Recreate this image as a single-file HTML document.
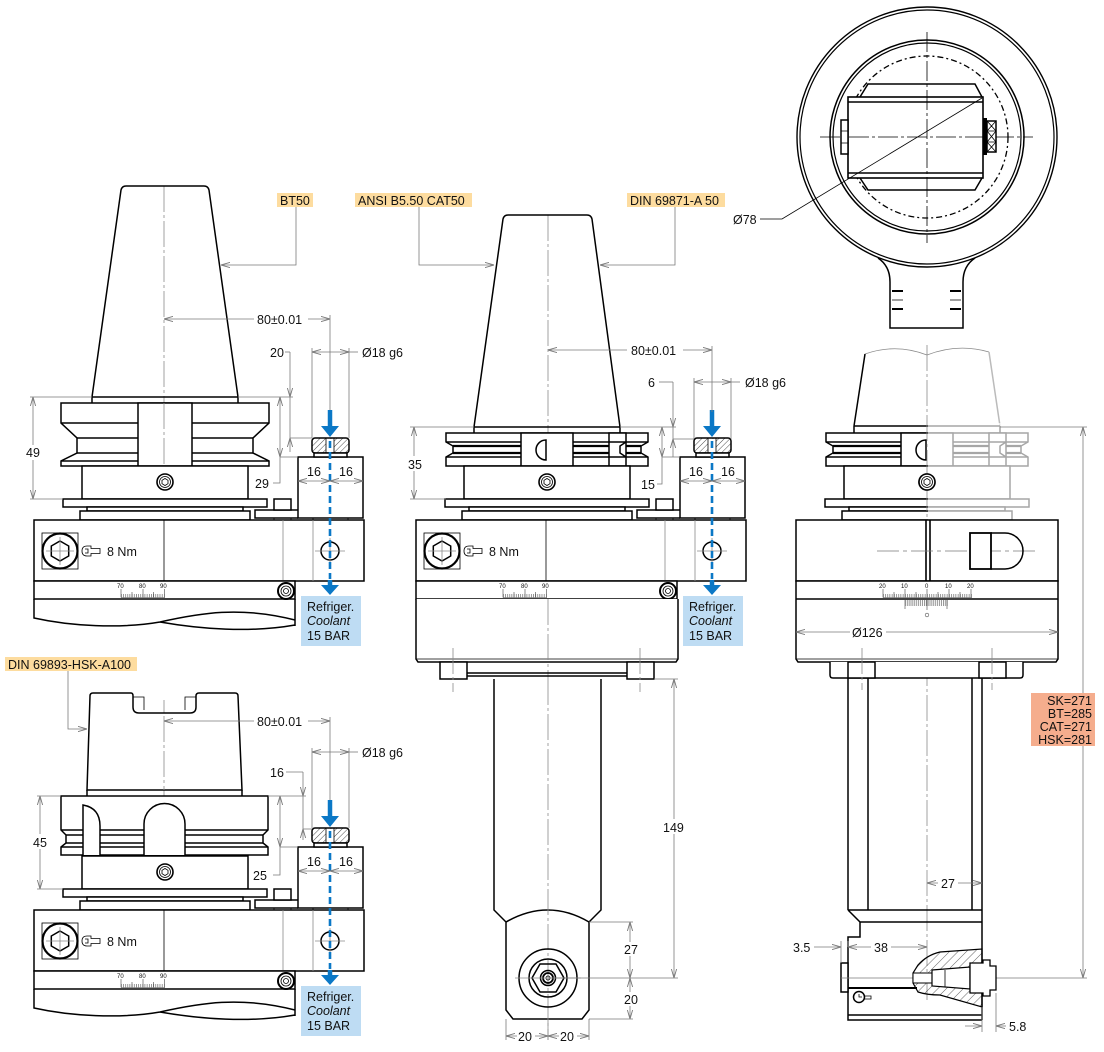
<!DOCTYPE html>
<html><head><meta charset="utf-8">
<style>
html,body{margin:0;padding:0;background:#fff;}
svg{display:block;}
text{font-family:"Liberation Sans",sans-serif;fill:#111;font-size:12.5px;}
.o{fill:none;stroke:#000;stroke-width:1.5}
.ow{fill:#fff;stroke:#000;stroke-width:1.5}
.t{fill:none;stroke:#000;stroke-width:0.8}
.g{fill:none;stroke:#8a8a8a;stroke-width:0.8}
.d{fill:none;stroke:#7a7a7a;stroke-width:0.8}
.cl{fill:none;stroke:#8a8a8a;stroke-width:0.8;stroke-dasharray:26,3,3,3}
.a2{marker-start:url(#ar);marker-end:url(#ar)}
.ae{marker-end:url(#ar)}
.sm{font-size:6px}
</style></head><body>
<svg width="1104" height="1052" viewBox="0 0 1104 1052" xmlns="http://www.w3.org/2000/svg">
<defs>
<marker id="ar" viewBox="0 0 9 6" refX="9" refY="3" markerWidth="9" markerHeight="6" markerUnits="userSpaceOnUse" orient="auto-start-reverse"><path d="M0,0.4 L9,3 L0,5.6" fill="none" stroke="#777" stroke-width="0.9"/></marker>
<pattern id="hat" width="4" height="4" patternUnits="userSpaceOnUse" patternTransform="rotate(45)"><line x1="0" y1="0" x2="0" y2="4" stroke="#000" stroke-width="0.7"/></pattern>
<pattern id="hat2" width="6" height="6" patternUnits="userSpaceOnUse" patternTransform="rotate(45)"><line x1="0" y1="0" x2="0" y2="6" stroke="#000" stroke-width="0.6"/></pattern>
<pattern id="tk" x="121" y="0" width="2.15" height="10" patternUnits="userSpaceOnUse"><rect x="0" y="0" width="0.6" height="10" fill="#555"/></pattern>
<pattern id="tk2" x="883" y="0" width="2.2" height="10" patternUnits="userSpaceOnUse"><rect x="0" y="0" width="0.6" height="10" fill="#555"/></pattern>
<pattern id="tk3" x="905" y="0" width="1.9" height="10" patternUnits="userSpaceOnUse"><rect x="0" y="0" width="0.6" height="10" fill="#555"/></pattern>

<!-- body/plate/steps, local x centered at 0 -->
<g id="bodyA">
 <rect x="-83" y="466" width="166" height="33" class="ow"/>
 <rect x="-102" y="499" width="204" height="8" class="ow"/>
 <rect x="-78" y="507" width="156" height="4" class="ow"/>
 <rect x="-85" y="511" width="170" height="9" class="ow"/>
 <circle cx="0" cy="482" r="8" fill="#fff" stroke="#000" stroke-width="1.6"/>
 <circle cx="0" cy="482" r="5.5" class="t"/>
 <polygon points="0,478.5 3,480.3 3,483.7 0,485.5 -3,483.7 -3,480.3" class="t"/>
</g>

<!-- CAT flange local centered at 0 -->
<g id="catfl">
 <path d="M-101,433 H101 V442 L94,446 V453 L101,457 V466 H-101 V457 L-94,453 V446 L-101,442 Z" class="ow"/>
 <path d="M-101,442 H101 M-101,457 H101" class="o"/>
 <path d="M-94,446 H94 M-94,453 H94" fill="none" stroke="#000" stroke-width="2.2"/>
 <rect x="-26" y="433" width="52" height="33" class="ow"/>
 <path d="M-1,440 A10,10 0 0 0 -1,460 Z" class="o"/>
 <rect x="62" y="433" width="17" height="33" class="ow"/>
 <path d="M62,442 H79 M62,457 H79 M79,442 L73,446 V453 L79,457" class="o"/>
</g>

<!-- core lower assembly in left-view coords -->
<g id="core">
 <rect x="34" y="520" width="330" height="61" class="ow"/>
 <line x1="164" y1="520" x2="164" y2="581" class="t"/>
 <line x1="283" y1="520" x2="283" y2="581" class="g"/>
 <line x1="313" y1="520" x2="313" y2="581" class="g"/>
 <rect x="42" y="533" width="36" height="36" class="t" stroke-width="1.2"/>
 <circle cx="60" cy="551" r="17.5" fill="none" stroke="#000" stroke-width="2.2"/>
 <polygon points="60,541 68.7,546 68.7,556 60,561 51.3,556 51.3,546" class="o" stroke-width="1.2"/>
 <path d="M46,551 H74 M60,537 V565" class="g"/>
 <path d="M91,546 H87 Q82,546 82,551 Q82,556 87,556 H91 V553.5 H100 V548.5 H91 Z M85,549 H88 V553 H85" class="t"/>
 <circle cx="330" cy="551" r="9" class="o"/>
 <path d="M315,551 H345 M330,538 V564" class="g"/>
 <rect x="298" y="457" width="65" height="61" class="ow"/>
 <polyline points="298,510 255,510 255,518 298,518" class="o"/>
 <rect x="274" y="499" width="17" height="11" class="ow"/>
 <path d="M274,518 V520 M291,518 V520 M313,518 V520 M348,518 V520" class="t"/>
 <rect x="312" y="438" width="37" height="15" rx="3" fill="url(#hat)" stroke="#000" stroke-width="1.5"/>
 <rect x="326" y="439" width="8" height="13" fill="#fff"/>
 <path d="M326,438 V453 M334,438 V453" class="t"/>
 <rect x="314" y="453" width="33" height="4" class="ow"/>
 <rect x="34" y="581" width="261" height="18" class="ow"/>
 <rect x="121" y="594" width="44" height="3.5" fill="url(#tk)"/>
 <path d="M121,589 V597.5 M143,589 V597.5 M164.3,589 V597.5 M132,592 V597.5 M153.5,592 V597.5 M121,597.5 H165" stroke="#444" stroke-width="0.6" fill="none"/>
 <circle cx="286" cy="591" r="8" fill="#fff" stroke="#000" stroke-width="2"/>
 <circle cx="286" cy="591" r="5" class="t"/>
 <circle cx="286" cy="591" r="2.5" class="t"/>
 <line x1="330" y1="410" x2="330" y2="428" stroke="#0b78c6" stroke-width="4.5"/>
 <polygon points="321,426 339,426 330,437" fill="#0b78c6"/>
 <line x1="330" y1="441" x2="330" y2="579" stroke="#0b78c6" stroke-width="2.6" stroke-dasharray="7,4"/>
 <line x1="330" y1="580" x2="330" y2="587" stroke="#0b78c6" stroke-width="4.5"/>
 <polygon points="321,585 339,585 330,595" fill="#0b78c6"/>
 <rect x="301" y="596" width="60" height="50" fill="#bedcf3"/>
 <line x1="298" y1="481" x2="330" y2="481" class="d a2"/>
 <line x1="330" y1="481" x2="363" y2="481" class="d a2"/>
</g>

<g id="wave">
 <path d="M34,599 V618 C70,626 120,629 160,622 C200,613 240,606 295,620 M295,599 V626 M160,622 C200,629 250,633 295,625" class="o" stroke-width="1.2"/>
</g>
</defs>

<!-- ================= LEFT TOP: BT50 ================= -->
<line x1="164" y1="186" x2="164" y2="520" class="cl"/>
<path d="M92,397 L121,190 Q122,186 126,186 H204 Q208,186 209,190 L238,397" class="o"/>
<path d="M92,397 H238 M92,397 V403 M238,397 V403" class="o"/>
<path d="M61,403 H269 V423 L253,438 V453 L269,461 V466 H61 V461 L77,453 V438 L61,423 Z" class="ow"/>
<path d="M61,423 H269 M77,438 H253 M77,453 H253 M61,461 H269" class="o"/>
<rect x="138" y="403" width="54" height="63" class="ow"/>
<line x1="164" y1="403" x2="164" y2="466" class="cl"/>
<use href="#bodyA" transform="translate(165,0)"/>
<use href="#core"/>
<use href="#wave"/>
<text x="107" y="556">8 Nm</text>
<text class="sm" x="117" y="588">70</text><text class="sm" x="139" y="588">80</text><text class="sm" x="160" y="588">90</text>
<text x="307" y="476">16</text><text x="339" y="476">16</text>
<text x="307" y="611">Refriger.</text><text x="307" y="625" font-style="italic">Coolant</text><text x="307" y="640">15 BAR</text>
<!-- dims -->
<line x1="164" y1="319" x2="330" y2="319" class="d a2"/>
<rect x="254" y="311" width="54" height="15" fill="#fff"/>
<text x="257" y="324">80±0.01</text>
<line x1="330" y1="315" x2="330" y2="410" class="d"/>
<path d="M312,348 V438 M349,348 V438" class="d"/>
<line x1="312" y1="352" x2="349" y2="352" class="d a2"/>
<line x1="349" y1="352" x2="358" y2="352" class="d"/>
<text x="362" y="357">Ø18 g6</text>
<text x="270" y="357">20</text>
<line x1="285" y1="352" x2="290" y2="352" class="d"/>
<line x1="290" y1="352" x2="290" y2="397" class="d ae"/>
<line x1="290" y1="452" x2="290" y2="438" class="d ae"/>
<line x1="290" y1="397" x2="290" y2="438" class="d"/>
<path d="M238,397 H293 M290,438 H312" class="d"/>
<line x1="280" y1="397" x2="280" y2="457" class="d a2"/>
<path d="M280,457 V483 H273 M280,457 H298" class="d"/>
<text x="255" y="488">29</text>
<path d="M30,397 H92 M30,499 H63" class="d"/>
<line x1="33" y1="397" x2="33" y2="499" class="d a2"/>
<rect x="25" y="445" width="17" height="15" fill="#fff"/>
<text x="26" y="457">49</text>
<!-- label -->
<rect x="277" y="193" width="36" height="14" fill="#fddc9f"/>
<text x="280" y="205" font-size="12">BT50</text>
<path d="M296,207 V265 H221" class="d ae"/>

<!-- ================= LEFT BOTTOM: HSK ================= -->
<rect x="5" y="657" width="132" height="14" fill="#fddc9f"/>
<text x="8" y="669" font-size="12">DIN 69893-HSK-A100</text>
<path d="M68,671 V729 H87" class="d ae"/>
<line x1="164" y1="700" x2="164" y2="910" class="cl"/>
<path d="M90,696 Q90,693 93,693 H131 Q133,693 133,696 V707 Q133,713 139,713 H190 Q196,713 196,707 V696 Q196,693 199,693 H235 Q238,693 238,696 L242,790 H87 Z" class="ow"/>
<path d="M133,697 H144 V710 M196,697 H185 V710" class="t"/>
<path d="M87,790 V796 M242,790 V796" class="o"/>
<line x1="164" y1="716" x2="164" y2="790" class="cl"/>
<path d="M61,796 H268 V830 L263,835 V843 L268,847 V855 H61 V847 L66,843 V835 L61,830 Z" class="ow"/>
<path d="M61,830 H268 M66,835 H263 M66,843 H263 M61,847 H268" class="o"/>
<path d="M83,855 V805 Q100,808 100,826 V855" class="ow"/>
<path d="M144,855 V824 A20.5,20.5 0 0 1 185,824 V855" class="ow"/>
<use href="#bodyA" transform="translate(165,390)"/>
<use href="#core" transform="translate(0,390)"/>
<use href="#wave" transform="translate(0,390)"/>
<text x="107" y="946">8 Nm</text>
<text class="sm" x="117" y="978">70</text><text class="sm" x="139" y="978">80</text><text class="sm" x="160" y="978">90</text>
<text x="307" y="866">16</text><text x="339" y="866">16</text>
<text x="307" y="1001">Refriger.</text><text x="307" y="1015" font-style="italic">Coolant</text><text x="307" y="1030">15 BAR</text>
<line x1="164" y1="721" x2="330" y2="721" class="d a2"/>
<rect x="254" y="713" width="54" height="15" fill="#fff"/>
<text x="257" y="726">80±0.01</text>
<line x1="330" y1="717" x2="330" y2="800" class="d"/>
<path d="M312,748 V828 M349,748 V828" class="d"/>
<line x1="312" y1="752" x2="349" y2="752" class="d a2"/>
<line x1="349" y1="752" x2="358" y2="752" class="d"/>
<text x="362" y="757">Ø18 g6</text>
<text x="270" y="777">16</text>
<line x1="286" y1="772" x2="303" y2="772" class="d"/>
<line x1="303" y1="772" x2="303" y2="796" class="d ae"/>
<line x1="303" y1="840" x2="303" y2="829" class="d ae"/>
<line x1="303" y1="796" x2="303" y2="829" class="d"/>
<path d="M268,796 H306 M303,829 H312" class="d"/>
<line x1="280" y1="796" x2="280" y2="847" class="d a2"/>
<path d="M280,847 V875 H273 M280,847 H298" class="d"/>
<text x="253" y="880">25</text>
<path d="M37,796 H61 M37,889 H63" class="d"/>
<line x1="40" y1="796" x2="40" y2="889" class="d a2"/>
<rect x="32" y="834" width="17" height="15" fill="#fff"/>
<text x="33" y="847">45</text>

<!-- ================= MIDDLE: CAT50 / DIN ================= -->
<line x1="548" y1="215" x2="548" y2="1040" class="cl"/>
<path d="M474,427 L503,219 Q504,215 508,215 H587 Q591,215 592,219 L620,427" class="o"/>
<path d="M474,427 H620 M474,427 V433 M620,427 V433" class="o"/>
<use href="#catfl" transform="translate(547,0)"/>
<use href="#bodyA" transform="translate(547,0)"/>
<use href="#core" transform="translate(382,0)"/>
<text x="489" y="556">8 Nm</text>
<text class="sm" x="499" y="588">70</text><text class="sm" x="521" y="588">80</text><text class="sm" x="542" y="588">90</text>
<text x="689" y="476">16</text><text x="721" y="476">16</text>
<text x="689" y="611">Refriger.</text><text x="689" y="625" font-style="italic">Coolant</text><text x="689" y="640">15 BAR</text>
<!-- lower body -->
<path d="M416,599 V659 L418,662 H676 L678,659 V599" class="ow"/>
<line x1="416" y1="659" x2="678" y2="659" class="t"/>
<line x1="548" y1="599" x2="548" y2="662" class="cl"/>
<rect x="440" y="662" width="27" height="17" class="ow"/>
<rect x="627" y="662" width="27" height="17" class="ow"/>
<path d="M467,673 H627 M467,676 H627" class="o" stroke-width="1"/>
<path d="M453,648 V692 M640,648 V692" class="cl"/>
<path d="M494,679 V910 L506,922 V1010 L513,1019 H582 L589,1010 V922 L601,910 V679" class="ow"/>
<path d="M506,922 Q548,898 589,922" class="o"/>
<line x1="548" y1="679" x2="548" y2="1040" class="cl"/>
<circle cx="548" cy="978" r="29" class="o" stroke-width="1.3"/>
<circle cx="548" cy="978" r="19" class="o" stroke-width="1.3"/>
<polygon points="532,978 540,964 556,964 564,978 556,992 540,992" class="o" stroke-width="1.3"/>
<circle cx="548" cy="978" r="7.5" class="o" stroke-width="1.3"/>
<circle cx="548" cy="978" r="5" fill="none" stroke="#000" stroke-width="1.8"/>
<circle cx="548" cy="978" r="2" class="t"/>
<line x1="515" y1="978" x2="581" y2="978" class="g"/>
<!-- middle dims -->
<line x1="548" y1="350" x2="712" y2="350" class="d a2"/>
<rect x="627" y="342" width="56" height="15" fill="#fff"/>
<text x="631" y="355">80±0.01</text>
<line x1="712" y1="346" x2="712" y2="412" class="d"/>
<path d="M694,378 V439 M731,378 V439" class="d"/>
<line x1="694" y1="382" x2="731" y2="382" class="d a2"/>
<line x1="731" y1="382" x2="740" y2="382" class="d"/>
<text x="745" y="387">Ø18 g6</text>
<text x="648" y="387">6</text>
<line x1="659" y1="382" x2="673" y2="382" class="d"/>
<line x1="673" y1="382" x2="673" y2="427" class="d ae"/>
<line x1="673" y1="457" x2="673" y2="439" class="d ae"/>
<line x1="673" y1="427" x2="673" y2="439" class="d"/>
<path d="M620,427 H676 M673,439 H694" class="d"/>
<line x1="662" y1="427" x2="662" y2="457" class="d a2"/>
<path d="M662,457 V484 H657 M662,457 H680" class="d"/>
<text x="641" y="489">15</text>
<path d="M410,427 H474 M410,499 H446" class="d"/>
<line x1="414" y1="427" x2="414" y2="499" class="d a2"/>
<rect x="406" y="456" width="19" height="15" fill="#fff"/>
<text x="408" y="469">35</text>
<path d="M654,679 H678 M548,978 H678 M589,922 H633 M589,1019 H633" class="d"/>
<line x1="674" y1="679" x2="674" y2="978" class="d a2"/>
<rect x="662" y="819" width="26" height="15" fill="#fff"/>
<text x="663" y="832">149</text>
<line x1="630" y1="922" x2="630" y2="978" class="d a2"/>
<line x1="630" y1="978" x2="630" y2="1019" class="d a2"/>
<rect x="622" y="942" width="18" height="14" fill="#fff"/>
<text x="624" y="954">27</text>
<rect x="622" y="992" width="18" height="14" fill="#fff"/>
<text x="624" y="1004">20</text>
<path d="M506,1019 V1040 M589,1019 V1040" class="d"/>
<line x1="506" y1="1036" x2="548" y2="1036" class="d a2"/>
<line x1="548" y1="1036" x2="589" y2="1036" class="d a2"/>
<rect x="517" y="1028" width="18" height="15" fill="#fff"/>
<text x="518" y="1041">20</text>
<rect x="559" y="1028" width="18" height="15" fill="#fff"/>
<text x="560" y="1041">20</text>
<!-- labels -->
<rect x="355" y="193" width="117" height="14" fill="#fddc9f"/>
<text x="358" y="205" font-size="12">ANSI B5.50 CAT50</text>
<path d="M419,207 V265 H494" class="d ae"/>
<rect x="627" y="193" width="98" height="14" fill="#fddc9f"/>
<text x="630" y="205" font-size="12">DIN 69871-A 50</text>
<path d="M675,207 V265 H600" class="d ae"/>

<!-- ================= RIGHT SIDE VIEW ================= -->
<path d="M865,354 Q896,343 927,355 Q958,343 989,352" class="g"/>
<line x1="865" y1="354" x2="854" y2="426" class="o"/>
<line x1="989" y1="352" x2="1000" y2="426" stroke="#bbb" stroke-width="1.5"/>
<path d="M854,426 H1000 M854,426 V433 M1000,426 V433" class="o"/>
<use href="#catfl" transform="translate(927,0)"/>
<use href="#bodyA" transform="translate(927,0)"/>
<rect x="928" y="423" width="104" height="97" fill="#fff" opacity="0.65"/>
<line x1="927" y1="345" x2="927" y2="1000" class="cl"/>
<circle cx="927" cy="482" r="8" fill="#fff" stroke="#000" stroke-width="1.6"/>
<circle cx="927" cy="482" r="5.5" class="t"/>
<polygon points="927,478.5 930,480.3 930,483.7 927,485.5 924,483.7 924,480.3" class="t"/>
<rect x="796" y="520" width="262" height="61" class="ow"/>
<path d="M926,520 V581 M930,520 V581" fill="none" stroke="#000" stroke-width="1.6"/>
<path d="M877,551 H1037" class="d" stroke-dasharray="22,4,4,4"/>
<rect x="970" y="533" width="21" height="36" fill="#fff" stroke="#000" stroke-width="1.8"/>
<path d="M991,533 H1005 A18,18 0 0 1 1005,569 H991" class="o"/>
<path d="M796,581 H1058 V659 L1056,662 H798 L796,659 Z" class="ow"/>
<line x1="796" y1="599" x2="1058" y2="599" class="o"/>
<line x1="796" y1="659" x2="1058" y2="659" class="t"/>
<text class="sm" x="879" y="588">20</text><text class="sm" x="901" y="588">10</text><text class="sm" x="925" y="588">0</text><text class="sm" x="945" y="588">10</text><text class="sm" x="967" y="588">20</text>
<rect x="883" y="594" width="89" height="3.5" fill="url(#tk2)"/>
<path d="M883,589 V597.5 M905,589 V597.5 M927,589 V597.5 M949,589 V597.5 M971,589 V597.5 M894,592 V597.5 M916,592 V597.5 M938,592 V597.5 M960,592 V597.5 M883,597.5 H972" stroke="#444" stroke-width="0.6" fill="none"/>
<rect x="905" y="600" width="43" height="6" fill="url(#tk3)"/>
<path d="M905,599 V609 M927,599 V610 M947,599 V609" stroke="#444" stroke-width="0.6"/>
<circle cx="927" cy="615" r="1.8" fill="none" stroke="#555" stroke-width="0.6"/>
<line x1="796" y1="632" x2="1058" y2="632" class="d a2"/>
<rect x="850" y="624" width="36" height="15" fill="#fff"/>
<text x="852" y="637">Ø126</text>
<path d="M830,662 V675 Q830,678 833,678 H1020 Q1023,678 1023,675 V662" class="ow"/>
<rect x="848" y="662" width="27" height="16" class="ow"/>
<rect x="979" y="662" width="27" height="16" class="ow"/>
<path d="M862,648 V690 M992,648 V690" class="cl"/>
<path d="M848,678 V910 M868,678 V910 M972,678 V910 M982,678 V1020" class="o"/>
<path d="M848,910 H982 M848,910 L860,922 H982 M860,922 V937 H848 V1020 H982 M848,1015 H982" class="o"/>
<rect x="841" y="963" width="7" height="29" class="ow"/>
<line x1="841" y1="978" x2="1087" y2="978" class="d"/>
<line x1="848" y1="988" x2="917" y2="988" stroke="#000" stroke-width="2"/>
<circle cx="859" cy="997" r="5.5" class="o" stroke-width="1.3"/>
<path d="M859,994 V997 H862 M864,996 H871 V999 H864" class="t"/>
<path d="M918,965 Q927,955 940,952 L982,949 V1007 L940,995 Q927,995 918,992 L913,983 V973 Z" fill="url(#hat2)" stroke="#000" stroke-width="1.2"/>
<rect x="913" y="973" width="19" height="10" fill="#fff" stroke="#000" stroke-width="1"/>
<path d="M932,970 L970,967 V989 L932,986 Z" fill="#fff" stroke="#000" stroke-width="1.2"/>
<path d="M970,963 H983 V960 H990 V966 H996 V990 H990 V996 H983 V993 H970 Z" fill="#fff" stroke="#000" stroke-width="1.3"/>
<line x1="945" y1="970" x2="945" y2="987" class="t"/>
<!-- right dims -->
<line x1="927" y1="883" x2="982" y2="883" class="d a2"/>
<rect x="938" y="875" width="20" height="15" fill="#fff"/>
<text x="941" y="888">27</text>
<path d="M841,941 V963 M848,941 V947" class="d"/>
<text x="793" y="952">3.5</text>
<line x1="814" y1="947" x2="841" y2="947" class="d ae"/>
<line x1="848" y1="947" x2="927" y2="947" class="d a2"/>
<rect x="871" y="939" width="20" height="15" fill="#fff"/>
<text x="874" y="952">38</text>
<path d="M982,1007 V1032 M996,993 V1032" class="d"/>
<line x1="965" y1="1026" x2="982" y2="1026" class="d ae"/>
<line x1="1006" y1="1026" x2="996" y2="1026" class="d ae"/>
<text x="1009" y="1031">5.8</text>
<line x1="1000" y1="427" x2="1087" y2="427" class="d"/>
<line x1="1083" y1="427" x2="1083" y2="978" class="d a2"/>
<rect x="1031" y="693" width="64" height="53" fill="#f5ad8d"/>
<text x="1092" y="705" text-anchor="end" font-size="12">SK=271</text>
<text x="1092" y="718" text-anchor="end" font-size="12">BT=285</text>
<text x="1092" y="731" text-anchor="end" font-size="12">CAT=271</text>
<text x="1092" y="744" text-anchor="end" font-size="12">HSK=281</text>

<!-- ================= TOP CIRCLE VIEW ================= -->
<path d="M878,258 Q890,266 890,282 V328 H963 V282 Q963,266 975,258" class="o" stroke-width="1.4"/>
<path d="M892,291 H903 M950,291 H961 M892,309 H903 M950,309 H961" stroke="#000" stroke-width="2" fill="none"/>
<path d="M892,300 H903 M950,300 H961" class="t"/>
<circle cx="927" cy="137" r="130" fill="#fff" stroke="#000" stroke-width="1.4"/>
<circle cx="927" cy="137" r="127" fill="none" stroke="#000" stroke-width="1.2"/>
<circle cx="927" cy="137" r="97" fill="none" stroke="#000" stroke-width="1.5"/>
<circle cx="927" cy="137" r="94" fill="none" stroke="#000" stroke-width="1.2"/>
<circle cx="927" cy="137" r="81" fill="none" stroke="#000" stroke-width="1.3" stroke-dasharray="6,3,2,3"/>
<path d="M860,97 L868,84 H975 L982,97 M860,178 L868,190 H975 L982,178" class="o" stroke-width="1.3"/>
<rect x="848" y="97" width="135" height="81" fill="#fff" stroke="#000" stroke-width="1.6"/>
<path d="M848,102 H983 M848,173 H983" class="o" stroke-width="1.2"/>
<path d="M820,137 H1033" class="t" stroke-dasharray="20,3,3,3"/>
<path d="M927,32 V243" class="t" stroke-dasharray="20,3,3,3"/>
<rect x="841" y="120" width="7" height="34" class="ow" stroke-width="1.2"/>
<path d="M841,131 H848 M841,143 H848" class="t"/>
<rect x="983" y="118" width="4" height="37" fill="#000"/>
<rect x="987" y="121" width="9" height="31" class="ow" stroke-width="1.2"/>
<path d="M987,131 H996 M987,142 H996 M987,121 L996,131 M996,121 L987,131 M987,131 L996,142 M996,131 L987,142 M987,142 L996,152 M996,142 L987,152" class="t"/>
<polyline points="760,219 782,219 982,98" class="t"/>
<text x="733" y="224">Ø78</text>
</svg>
</body></html>
